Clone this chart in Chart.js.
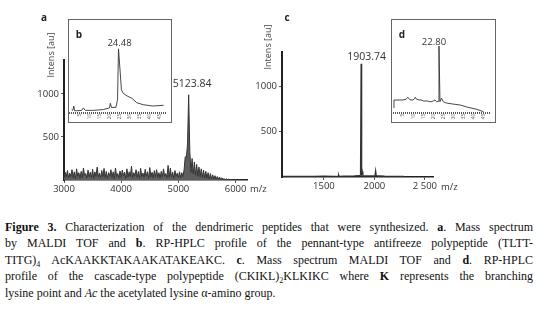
<!DOCTYPE html>
<html><head><meta charset="utf-8">
<script src="https://cdn.jsdelivr.net/npm/chart.js@4/dist/chart.umd.min.js"></script>
<style>
html,body{margin:0;padding:0;background:#fff;width:538px;height:315px;overflow:hidden;}
canvas{position:absolute;}
#cA{left:0;top:0;}
#cC{left:240px;top:0;}
.inset{position:absolute;background:#fff;border:1px solid #666;box-sizing:border-box;}
.inset canvas{left:0;top:0;}
#ib{left:68px;top:19px;width:104px;height:104px;}
#id{left:391px;top:19px;width:105px;height:104px;}
#caption{position:absolute;left:5px;top:218.7px;width:528px;font-family:"Liberation Serif","Times New Roman",serif;font-size:12px;line-height:16.5px;color:#111;}
.ln{display:block;white-space:nowrap;}
.ln span.t{display:inline-block;white-space:nowrap;}
sub{font-size:8px;line-height:0;vertical-align:-3px;}
</style>
</head><body>
<canvas id="cA" width="270" height="200"></canvas>
<canvas id="cC" width="298" height="200"></canvas>
<div class="inset" id="ib"><canvas id="cB" width="102" height="102"></canvas></div>
<div class="inset" id="id"><canvas id="cD" width="103" height="102"></canvas></div>
<div id="caption">
<div class="ln"><span class="t"><b>Figure 3.</b> Characterization of the dendrimeric peptides that were synthesized. <b>a</b>. Mass spectrum</span></div>
<div class="ln"><span class="t">by MALDI TOF and <b>b</b>. RP-HPLC profile of the pennant-type antifreeze polypeptide (TLTT-</span></div>
<div class="ln"><span class="t">TITG)<sub>4</sub> AcKAAKKTAKAAKATAKEAKC. <b>c</b>. Mass spectrum MALDI TOF and <b>d</b>. RP-HPLC</span></div>
<div class="ln"><span class="t">profile of the cascade-type polypeptide (CKIKL)<sub>2</sub>KLKIKC where <b>K</b> represents the branching</span></div>
<div class="ln"><span class="t">lysine point and <i>Ac</i> the acetylated lysine α-amino group.</span></div>
</div>
<script>
// ---------- Panel a: MALDI TOF spectrum (m/z sampled every 20 from 3000) ----------
const A_MZ_START = 3000;
const A_MZ_STEP = 20;
const A_INTENS = [
 20, 90, 35,110, 25,   80, 40,120, 30, 95,   15,130, 45, 85, 20,  100, 30,140, 50, 75,
 25,115, 40, 90, 30,  125, 20, 95, 45,150,   35, 80, 25,110, 40,  135, 30,100, 20, 85,
 45,120, 30, 95, 15,  140, 40, 75, 25,105,   30,115, 50, 90, 20,  130, 35, 95, 40,160,
 25, 85, 45,120, 30,  100, 20,135, 40, 80,   30,125, 45, 95, 20,  145, 35, 90, 25,110,
 40,120, 30, 85, 20,  100, 35,130, 45, 75,   25,170, 30,140, 35,   90, 20,110, 40, 80,
 30, 95, 25, 85, 40,  120,270,260,420,990,  330, 90,250, 70,210,   55,180, 45,150, 40,
130, 30,115, 25,100,   20, 85, 15, 75, 15,   60, 10, 50, 10, 40,    8, 35,  5, 25,  5,
 18,  3, 12,  3,  8,    2,  6,  2,  4,  2,    3,  1,  2,  1,  1,    1
];
const A_X_TICKS = [3000, 4000, 5000, 6000];
const A_X_LABELS = ['3000', '4000', '5000', '6000'];
const A_Y_TICKS = [500, 1000];
const A_PEAK = {mz: 5180, intens: 990, label: '5123.84'};

// ---------- Panel b: RP-HPLC (time in min, absorbance) ----------
const B_TIME = [1.05, 1.67, 2.14, 2.6, 3.6, 6.0, 6.9, 7.9, 12.1, 16.9, 19.3, 20.0, 20.4, 21.0, 23.2, 24.0, 24.48, 25.95, 26.8, 28.8, 31.2, 33.6, 36.8, 41.5, 47.0];
const B_ABS  = [3.3, 2.0, 7.3, 1.5, 1.6, 1.8, 4.9, 2.0, 2.0, 3.0, 4.5, 5.0, 10.6, 5.5, 5.7, 15, 77, 27, 22.8, 19.5, 16.7, 11.3, 8.9, 7.3, 8.2];
const B_PEAK = {t: 24.48, v: 77, label: '24.48'};

// ---------- Panel c: MALDI TOF spectrum ----------
const C_MZ = [1090, 1200, 1300, 1400, 1500, 1600, 1640, 1645, 1650, 1700, 1800, 1855, 1862, 1868, 1874, 1880, 1886, 1900, 2005, 2012, 2018, 2100, 2200, 2290];
const C_INTENS = [8, 6, 8, 7, 9, 8, 9, 25, 8, 10, 12, 15, 20, 1244, 30, 60, 15, 12, 12, 70, 15, 10, 8, 6];
const C_X_TICKS = [1500, 2000, 2500];
const C_X_LABELS = ['1500', '2000', '2 500'];
const C_Y_TICKS = [500, 1000];
const C_PEAK = {mz: 1868, intens: 1244, label: '1903.74'};

// ---------- Panel d: RP-HPLC ----------
const D_TIME = [0.35, 0.4, 4.5, 6.4, 7.3, 8.3, 9.7, 10.6, 11.0, 11.7, 12.9, 13.8, 15.2, 17.1, 18.5, 19.4, 20.3, 20.8, 21.7, 22.4, 22.8, 23.3, 24.1, 24.9, 26.4, 29.5, 33.4, 37.2, 41.3, 45.0];
const D_ABS  = [4.9, 14.6, 14.6, 15.5, 18, 15, 14.5, 16, 18, 15.5, 14.6, 14.8, 13.4, 13.4, 12.5, 12.8, 14, 14.6, 12.5, 13, 80.5, 12.6, 16.7, 12.6, 11, 9.8, 8.5, 5.7, 3.5, 0.4];
const D_PEAK = {t: 22.8, v: 80.5, label: '22.80'};

const HPLC_MIN_TICKS = Array.from({length: 49}, (_, i) => i);   // minute marks of the ruler
const HPLC_LABELED = [5, 10, 15, 20, 25, 30, 35, 40, 45];

// ---------- helpers ----------
const SANS = '"Open Sans", "DejaVu Sans", sans-serif';
function annot(items){
  return {
    id: 'annot',
    afterDraw(chart){
      const ctx = chart.ctx;
      items.forEach(t => {
        ctx.save();
        ctx.font = t.font; ctx.fillStyle = t.color || '#333';
        ctx.textAlign = t.align || 'center'; ctx.textBaseline = 'middle';
        let x = t.x, y = t.y;
        if (t.xv !== undefined) {
          x = chart.scales.x.getPixelForValue(t.xv) + (t.dx || 0);
          y = chart.scales.y.getPixelForValue(t.yv) + (t.dy || 0);
        }
        ctx.translate(x, y);
        if (t.rot) ctx.rotate(t.rot);
        ctx.fillText(t.text, 0, 0);
        ctx.restore();
      });
    }
  };
}

function mainChart(id, W, H, area, data, xmin, xmax, ymax, xt, xl, yt, items, ds){
  return new Chart(document.getElementById(id), {
    type: 'line',
    data: {datasets: [Object.assign({data: data, pointRadius: 0, tension: 0}, ds)]},
    options: {
      responsive: false, animation: false, devicePixelRatio: 1, events: [],
      layout: {padding: {top: area.top, right: W - area.right, left: 0, bottom: 0}},
      plugins: {legend: {display: false}, tooltip: {enabled: false}},
      scales: {
        x: {type: 'linear', min: xmin, max: xmax,
            afterBuildTicks: s => { s.ticks = xt.map(v => ({value: v})); },
            afterFit: s => { s.height = H - area.bottom; },
            ticks: {font: {family: SANS, size: 9.5}, color: '#333', padding: 1, maxRotation: 0, autoSkip: false,
                    callback: v => { const k = xt.indexOf(v); return k >= 0 ? xl[k] : String(v); }},
            grid: {display: true, drawOnChartArea: false, tickLength: 3, color: '#555'},
            border: {display: true, color: '#222', width: 1.5}},
        y: {type: 'linear', min: 0, max: ymax,
            afterBuildTicks: s => { s.ticks = yt.map(v => ({value: v})); },
            afterFit: s => { s.width = area.left; },
            ticks: {font: {family: SANS, size: 9.5}, color: '#333', padding: 2, autoSkip: false, callback: v => String(v)},
            grid: {display: true, drawOnChartArea: false, tickLength: 3, color: '#555'},
            border: {display: true, color: '#222', width: 2}}
      }
    },
    plugins: [annot(items)]
  });
}

function insetChart(id, W, H, times, vals, xmin, xmax, items){
  return new Chart(document.getElementById(id), {
    type: 'line',
    data: {datasets: [{data: times.map((t, i) => ({x: t, y: vals[i]})), borderColor: '#333', borderWidth: 0.9, pointRadius: 0, tension: 0}]},
    options: {
      responsive: false, animation: false, devicePixelRatio: 1, events: [],
      layout: {padding: {top: 10, right: 0, left: 0, bottom: 0}},
      plugins: {legend: {display: false}, tooltip: {enabled: false}},
      scales: {
        x: {type: 'linear', min: xmin, max: xmax,
            afterBuildTicks: s => { s.ticks = HPLC_MIN_TICKS.map(v => ({value: v})); },
            afterFit: s => { s.height = 10; },
            ticks: {font: {family: SANS, size: 4.5}, color: '#555', padding: 0, autoSkip: false, minRotation: 90, maxRotation: 90,
                    callback: v => HPLC_LABELED.includes(v) ? String(v) : ''},
            grid: {display: true, drawOnChartArea: false, tickLength: 2, color: '#555', lineWidth: 1},
            border: {display: false}},
        y: {display: false, min: 0, max: 100}
      }
    },
    plugins: [annot(items)]
  });
}

// ---------- build ----------
const A_DATA = A_INTENS.map((v, i) => ({x: A_MZ_START + i * A_MZ_STEP, y: v}));
mainChart('cA', 270, 200, {left: 64, right: 247, top: 60, bottom: 180}, A_DATA, 3000, 6200, 1395, A_X_TICKS, A_X_LABELS, A_Y_TICKS, [
  {xv: A_PEAK.mz, yv: A_PEAK.intens, dx: 3.5, dy: -11, text: A_PEAK.label, font: '10.5px ' + SANS},
  {x: 44, y: 18, text: 'a', font: 'bold 10px ' + SANS, color: '#222'},
  {x: 51, y: 55, text: 'Intens [au]', font: '9px ' + SANS, rot: -Math.PI / 2, color: '#444'},
  {x: 250, y: 189, text: 'm/z', font: '9.5px ' + SANS, align: 'left'}
], {borderColor: '#333', borderWidth: 1, fill: 'origin', backgroundColor: '#5e5e5e'});

const C_DATA = C_MZ.map((m, i) => ({x: m, y: C_INTENS[i]}));
mainChart('cC', 298, 200, {left: 42, right: 193, top: 52, bottom: 177}, C_DATA, 1085, 2580, 1374, C_X_TICKS, C_X_LABELS, C_Y_TICKS, [
  {xv: C_PEAK.mz, yv: C_PEAK.intens, dx: 5.5, dy: -7, text: C_PEAK.label, font: '10.5px ' + SANS},
  {x: 47, y: 18, text: 'c', font: 'bold 10px ' + SANS, color: '#222'},
  {x: 28, y: 47, text: 'Intens [au]', font: '9px ' + SANS, rot: -Math.PI / 2, color: '#444'},
  {x: 201, y: 187, text: 'm/z', font: '9.5px ' + SANS, align: 'left'}
], {borderColor: '#333', borderWidth: 1.2, fill: false});

insetChart('cB', 102, 102, B_TIME, B_ABS, -0.24, 48.33, [
  {xv: B_PEAK.t, yv: B_PEAK.v, dx: 1, dy: -6, text: B_PEAK.label, font: '9.5px ' + SANS},
  {x: 10, y: 15, text: 'b', font: 'bold 10px ' + SANS, color: '#222'}
]);
insetChart('cD', 103, 102, D_TIME, D_ABS, -0.58, 47.33, [
  {xv: D_PEAK.t, yv: D_PEAK.v, dx: -5, dy: -4, text: D_PEAK.label, font: '9.5px ' + SANS},
  {x: 10, y: 15, text: 'd', font: 'bold 10px ' + SANS, color: '#222'}
]);

// justify caption lines (all but last)
const lines = document.querySelectorAll('#caption .t');
lines.forEach((el, i) => {
  if (i === lines.length - 1) return;
  const w = el.getBoundingClientRect().width;
  const n = (el.textContent.match(/ /g) || []).length;
  el.style.wordSpacing = ((528 - w) / n) + 'px';
});
</script>
</body></html>
